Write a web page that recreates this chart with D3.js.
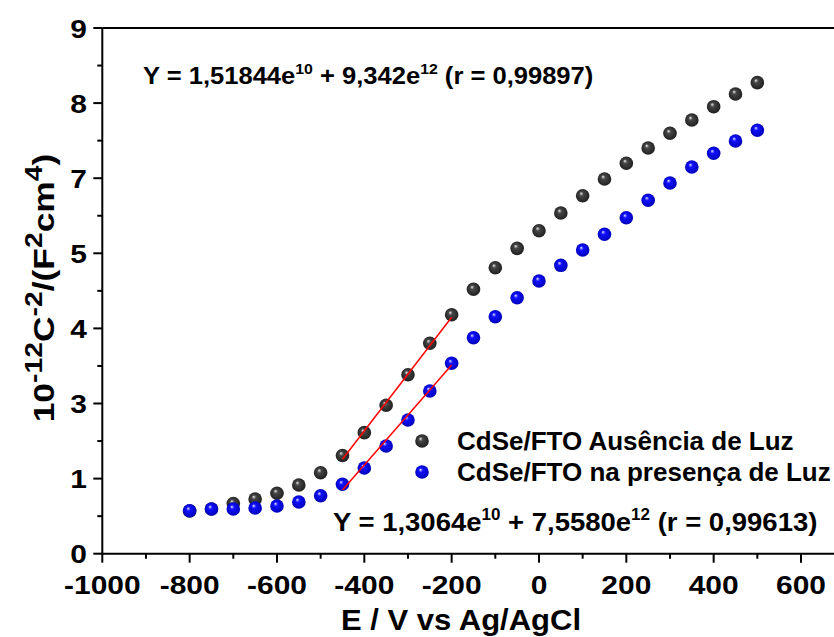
<!DOCTYPE html>
<html>
<head>
<meta charset="utf-8">
<script src="https://cdn.jsdelivr.net/npm/d3@7"></script>
<style>
  html, body { margin: 0; padding: 0; background: #fff; }
  svg { display: block; }
  text { font-family: "Liberation Sans", Arial, sans-serif; font-weight: bold; fill: #000; }
</style>
</head>
<body>
<svg id="chart" width="834" height="637"></svg>
<script>
// ---- data ----
const potentials = [-800,-750,-700,-650,-600,-550,-500,-450,-400,-350,-300,-250,-200,-150,-100,-50,0,50,100,150,200,250,300,350,400,450,500];
const darkValues = [0.73,0.765,0.859,0.936,1.034,1.176,1.387,1.681,2.072,2.541,3.064,3.602,4.090,4.527,4.896,5.228,5.530,5.833,6.129,6.415,6.684,6.946,7.197,7.425,7.653,7.870,8.064];
const lightValues = [0.736,0.765,0.765,0.782,0.817,0.885,0.993,1.188,1.467,1.844,2.289,2.785,3.260,3.698,4.057,4.381,4.669,4.937,5.199,5.468,5.752,6.050,6.346,6.620,6.855,7.066,7.249];
const darkFitX = [-450, -200];
const darkFitY = [1.616, 4.047];
const lightFitX = [-450, -200];
const lightFitY = [1.091, 3.232];
const xTicks = [-1000,-800,-600,-400,-200,0,200,400,600];
const yTickLabels = ["0","1","3","4","5","7","8","9"];
const seriesNames = ["CdSe/FTO Ausência de Luz", "CdSe/FTO na presença de Luz"];

// ---- layout ----
const svg = d3.select("#chart");
const W = 834, H = 637;
const x = d3.scaleLinear().domain([-1000, 600]).range([102.3, 801]);
const y = d3.scaleLinear().domain([0, 9]).range([553.7, 28]);
const yMajor = yTickLabels.map((d, i) => 9 * i / (yTickLabels.length - 1));
const yMinor = yMajor.slice(0, -1).map((d, i) => (yMajor[i] + yMajor[i + 1]) / 2);
const xMinor = d3.range(-900, 700, 200);

// gradients
const defs = svg.append("defs");
function sphere(id, hi, mid, edge) {
  const g = defs.append("radialGradient").attr("id", id)
    .attr("cx", "50%").attr("cy", "50%").attr("r", "55%")
    .attr("fx", "38%").attr("fy", "32%");
  g.append("stop").attr("offset", "0%").attr("stop-color", hi);
  g.append("stop").attr("offset", "28%").attr("stop-color", mid);
  g.append("stop").attr("offset", "100%").attr("stop-color", edge);
}
sphere("gDark", "#e8e8e8", "#464646", "#1c1c1c");
sphere("gBlue", "#e0e0ff", "#1010ff", "#0000b0");

// axes lines
const axisColor = "#000";
svg.append("line").attr("x1", x.range()[0]).attr("x2", W).attr("y1", y(0)).attr("y2", y(0))
  .attr("stroke", axisColor).attr("stroke-width", 2);
svg.append("line").attr("x1", x.range()[0]).attr("x2", W).attr("y1", y(9)).attr("y2", y(9))
  .attr("stroke", axisColor).attr("stroke-width", 2);
svg.append("line").attr("x1", x.range()[0]).attr("x2", x.range()[0]).attr("y1", y(0)).attr("y2", y(9))
  .attr("stroke", axisColor).attr("stroke-width", 2);

// x axis ticks
const gx = svg.append("g");
gx.selectAll(".xt").data(xTicks).join("line")
  .attr("x1", d => x(d)).attr("x2", d => x(d))
  .attr("y1", y(0)).attr("y2", y(0) + 9)
  .attr("stroke", axisColor).attr("stroke-width", 2);
gx.selectAll(".xm").data(xMinor).join("line")
  .attr("x1", d => x(d)).attr("x2", d => x(d))
  .attr("y1", y(0)).attr("y2", y(0) + 5)
  .attr("stroke", axisColor).attr("stroke-width", 2);
gx.selectAll("text").data(xTicks).join("text")
  .attr("transform", d => `translate(${x(d)},594) scale(1.13,1)`)
  .attr("text-anchor", "middle").attr("font-size", 26.5)
  .text(d => String(d));

// y axis ticks
const gy = svg.append("g");
gy.selectAll(".yt").data(yMajor).join("line")
  .attr("x1", x.range()[0] - 9).attr("x2", x.range()[0])
  .attr("y1", d => y(d)).attr("y2", d => y(d))
  .attr("stroke", axisColor).attr("stroke-width", 2);
gy.selectAll(".ym").data(yMinor).join("line")
  .attr("x1", x.range()[0] - 5).attr("x2", x.range()[0])
  .attr("y1", d => y(d)).attr("y2", d => y(d))
  .attr("stroke", axisColor).attr("stroke-width", 2);
gy.selectAll("text").data(yMajor).join("text")
  .attr("transform", d => `translate(87,${y(d) + 9.5}) scale(1.13,1)`)
  .attr("text-anchor", "end").attr("font-size", 26.5)
  .text((d, i) => yTickLabels[i]);

// points
function drawSeries(vals, fill) {
  svg.append("g").selectAll("circle").data(potentials.map((p, i) => [p, vals[i]])).join("circle")
    .attr("cx", d => x(d[0])).attr("cy", d => y(d[1])).attr("r", 6.8)
    .attr("fill", fill);
}
drawSeries(darkValues, "url(#gDark)");
drawSeries(lightValues, "url(#gBlue)");

// fit lines
const line = d3.line().x(d => x(d[0])).y(d => y(d[1]));
svg.append("path").attr("d", line(darkFitX.map((v, i) => [v, darkFitY[i]])))
  .attr("stroke", "#ff0000").attr("stroke-width", 1.5).attr("fill", "none");
svg.append("path").attr("d", line(lightFitX.map((v, i) => [v, lightFitY[i]])))
  .attr("stroke", "#ff0000").attr("stroke-width", 1.5).attr("fill", "none");

// legend
const legend = svg.append("g");
const legFills = ["url(#gDark)", "url(#gBlue)"];
seriesNames.forEach((name, i) => {
  const ly = 441 + i * 31;
  legend.append("circle").attr("cx", 422).attr("cy", ly).attr("r", 6.8).attr("fill", legFills[i]);
  legend.append("text").attr("x", 457).attr("y", ly + 9).attr("font-size", 26).text(name);
});

// equations
function equation(tx, ty, fs, sx, a, b, r) {
  const sfs = fs * 0.62, up = fs * 0.42;
  const t = svg.append("text").attr("transform", `translate(${tx},${ty}) scale(${sx},1)`).attr("font-size", fs);
  t.append("tspan").text("Y = " + a + "e");
  t.append("tspan").attr("font-size", sfs).attr("dy", -up).text("10");
  t.append("tspan").attr("dy", up).text(" + " + b + "e");
  t.append("tspan").attr("font-size", sfs).attr("dy", -up).text("12");
  t.append("tspan").attr("dy", up).text(" (r = " + r + ")");
}
equation(143, 84, 24, 1.065, "1,51844", "9,342", "0,99897");
equation(333, 531, 26, 1.057, "1,3064", "7,5580", "0,99613");

// axis titles
svg.append("text").attr("transform", "translate(461,630) scale(1.07,1)").attr("text-anchor", "middle")
  .attr("font-size", 29).text("E / V vs Ag/AgCl");

const yt = svg.append("text").attr("transform", "translate(54,288) rotate(-90) scale(1.18,1)")
  .attr("text-anchor", "middle").attr("font-size", 30);
const supFs = 24, supUp = 12;
yt.append("tspan").text("10");
yt.append("tspan").attr("font-size", supFs).attr("dy", -supUp).text("-12");
yt.append("tspan").attr("dy", supUp).text("C");
yt.append("tspan").attr("font-size", supFs).attr("dy", -supUp).text("-2");
yt.append("tspan").attr("dy", supUp).text("/(F");
yt.append("tspan").attr("font-size", supFs).attr("dy", -supUp).text("2");
yt.append("tspan").attr("dy", supUp).text("cm");
yt.append("tspan").attr("font-size", supFs).attr("dy", -supUp).text("4");
yt.append("tspan").attr("dy", supUp).text(")");
</script>
</body>
</html>
